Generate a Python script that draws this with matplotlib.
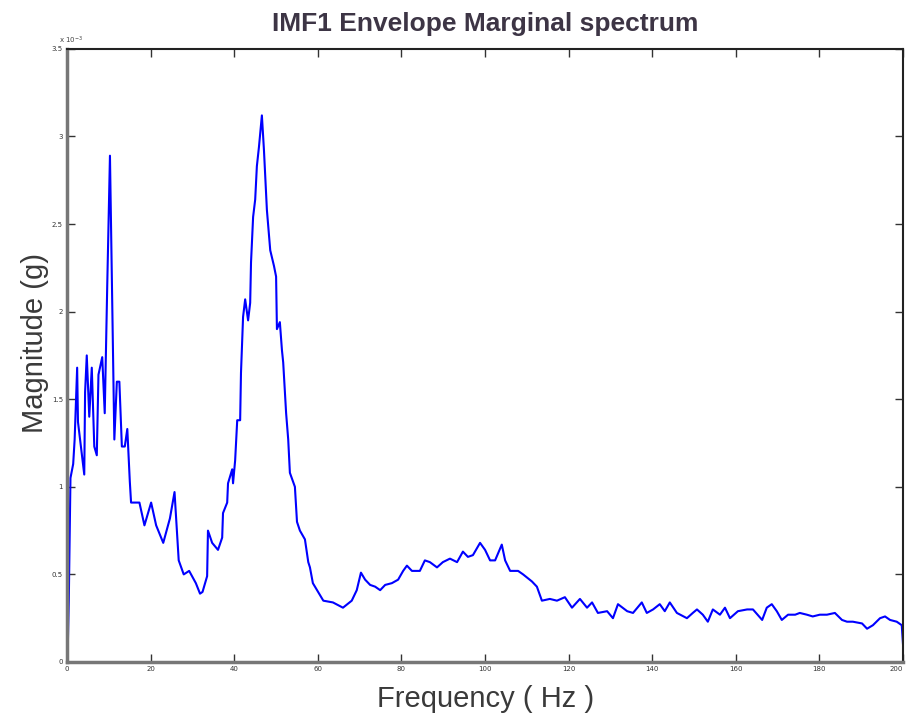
import numpy as np
import matplotlib.pyplot as plt
from matplotlib.ticker import FuncFormatter

# frequency (Hz) and envelope magnitude (x 1e-3 g)
freq = [0, 0.1, 0.4, 0.8, 1.45, 1.8, 2.4, 2.6, 3.3, 4.1, 4.3, 4.7, 5.3, 5.9, 6.5, 7.1, 7.5,
        8.4, 9.0, 9.6, 10.25, 10.8, 11.3, 11.9, 12.5, 13.1, 13.8, 14.4, 15.0, 15.3, 17.3,
        18.5, 20.1, 21.3, 23.0, 24.6, 25.7, 26.7, 27.9, 29.2, 30.8, 31.8, 32.4, 33.5, 33.7,
        34.7, 36.1, 37.1, 37.3, 38.3, 38.5, 39.5, 39.7, 40.2, 40.7, 41.4, 41.6, 42.1, 42.6,
        43.3, 43.8, 44.0, 44.5, 45.0, 45.4, 45.9, 46.6, 47.1, 47.8, 48.6, 49.5, 50.0, 50.2,
        50.9, 51.4, 51.7, 52.4, 52.9, 53.3, 54.5, 55.0, 55.7, 56.9, 57.7, 58.1, 58.8, 59.8,
        61.3, 63.6, 66.0, 68.1, 69.3, 70.3, 71.3, 72.5, 73.7, 74.9, 76.1, 77.7, 79.2, 80.4,
        81.3, 82.5, 84.4, 85.6, 86.8, 88.5, 89.9, 91.6, 93.3, 94.7, 95.9, 97.1, 98.8, 100.0,
        101.2, 102.4, 104.0, 104.8, 106.0, 107.9, 109.1, 111.2, 112.4, 113.6, 115.5, 117.2,
        119.1, 120.8, 122.7, 124.4, 125.6, 127.0, 129.2, 130.6, 131.8, 134.0, 135.4, 137.5,
        138.7, 140.2, 141.8, 143.0, 144.2, 145.9, 148.3, 149.7, 150.7, 152.1, 153.3, 154.5,
        156.2, 157.4, 158.6, 160.5, 162.7, 164.1, 166.3, 167.4, 168.6, 169.8, 171.0, 172.5,
        174.2, 175.3, 177.0, 178.4, 180.1, 181.8, 183.7, 185.4, 186.6, 188.0, 190.2, 191.4,
        192.8, 194.5, 195.7, 196.9, 198.5, 199.7, 200.0]
mag = [0.0, 0.02, 0.35, 1.05, 1.13, 1.27, 1.68, 1.37, 1.23, 1.07, 1.54, 1.75, 1.40, 1.68, 1.23,
       1.18, 1.64, 1.74, 1.42, 2.15, 2.89, 2.03, 1.27, 1.60, 1.60, 1.23, 1.23, 1.33, 1.03, 0.91,
       0.91, 0.78, 0.91, 0.78, 0.68, 0.82, 0.97, 0.58, 0.50, 0.52, 0.45, 0.39, 0.40, 0.49, 0.75,
       0.68, 0.64, 0.71, 0.85, 0.91, 1.02, 1.10, 1.02, 1.15, 1.38, 1.38, 1.65, 1.97, 2.07, 1.95,
       2.05, 2.28, 2.54, 2.64, 2.83, 2.94, 3.12, 2.92, 2.58, 2.35, 2.26, 2.20, 1.90, 1.94, 1.78,
       1.71, 1.42, 1.27, 1.08, 1.00, 0.80, 0.75, 0.70, 0.57, 0.54, 0.45, 0.41, 0.35, 0.34, 0.31,
       0.35, 0.41, 0.51, 0.47, 0.44, 0.43, 0.41, 0.44, 0.45, 0.47, 0.52, 0.55, 0.52, 0.52, 0.58,
       0.57, 0.54, 0.57, 0.59, 0.57, 0.63, 0.60, 0.61, 0.68, 0.64, 0.58, 0.58, 0.67, 0.58, 0.52,
       0.52, 0.50, 0.46, 0.43, 0.35, 0.36, 0.35, 0.37, 0.31, 0.36, 0.31, 0.34, 0.28, 0.29, 0.25,
       0.33, 0.29, 0.28, 0.34, 0.28, 0.30, 0.33, 0.29, 0.34, 0.28, 0.25, 0.28, 0.30, 0.27, 0.23,
       0.30, 0.27, 0.31, 0.25, 0.29, 0.30, 0.30, 0.24, 0.31, 0.33, 0.29, 0.24, 0.27, 0.27, 0.28,
       0.27, 0.26, 0.27, 0.27, 0.28, 0.24, 0.23, 0.23, 0.22, 0.19, 0.21, 0.25, 0.26, 0.24, 0.23,
       0.21, 0.10]

x_ticks = [0, 20, 40, 60, 80, 100, 120, 140, 160, 180, 200]
y_ticks = [0, 0.5, 1, 1.5, 2, 2.5, 3, 3.5]

fig = plt.figure(figsize=(9.07, 7.18), dpi=100)
ax = fig.add_axes([0.074, 0.078, 0.9216, 0.854])

ax.plot(freq, np.array(mag) * 1e-3, color='#0000ff', lw=1.5)

ax.set_xlim(0, 200)
ax.set_ylim(0, 3.5e-3)
ax.set_xticks(x_ticks)
ax.set_yticks(np.array(y_ticks) * 1e-3)
ax.yaxis.set_major_formatter(FuncFormatter(lambda v, p: '%g' % round(v * 1e3, 2)))
ax.tick_params(direction='in', length=6, width=1, labelsize=5, colors='#333333',
               top=True, right=True, pad=3)
fig.canvas.draw()
ax.get_xticklabels()[-1].set_horizontalalignment('right')

for s in ['left', 'bottom']:
    ax.spines[s].set_color('#777777')
    ax.spines[s].set_linewidth(2.5)
for s in ['top', 'right']:
    ax.spines[s].set_color('#222222')
    ax.spines[s].set_linewidth(1.5)

ax.text(-0.01, 1.005, r'x 10$^{-3}$', transform=ax.transAxes, fontsize=5,
        color='#444444', ha='left', va='bottom')

ax.set_title('IMF1 Envelope Marginal spectrum', fontsize=19, fontweight='bold',
             family='Liberation Sans', color='#3d3545', pad=12.5)
ax.set_xlabel('Frequency ( Hz )', fontsize=21, family='Liberation Sans', color='#3a3a3a',
              labelpad=9)
ax.set_ylabel('Magnitude (g)', fontsize=21, family='Liberation Sans', color='#3a3a3a')
ax.yaxis.set_label_coords(-0.022, 0.52)

plt.savefig('out.png', dpi=100)
